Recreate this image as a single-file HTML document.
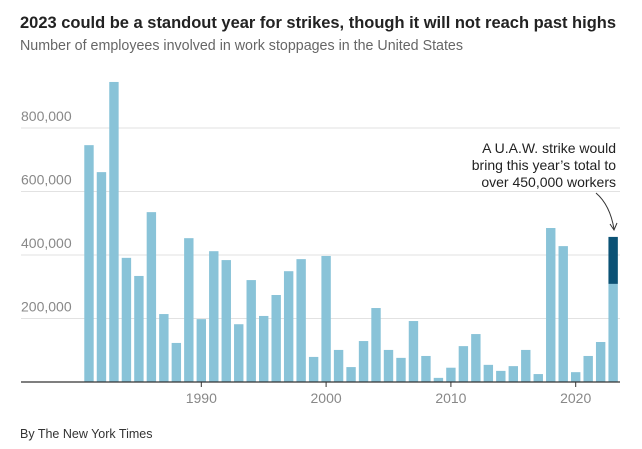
<!DOCTYPE html>
<html><head><meta charset="utf-8"><style>
body{margin:0;background:#fff;font-family:"Liberation Sans",sans-serif;}
svg{display:block}
</style></head><body>
<svg width="642" height="449">
<text x="20" y="28" font-size="17" font-weight="bold" fill="#222" textLength="596" lengthAdjust="spacingAndGlyphs">2023 could be a standout year for strikes, though it will not reach past highs</text>
<text x="20" y="50" font-size="15" fill="#666" textLength="443" lengthAdjust="spacingAndGlyphs">Number of employees involved in work stoppages in the United States</text>
<g id="grid"></g><g id="bars"></g><g id="xaxis"></g>
<text x="616" y="153" font-size="14" fill="#222" text-anchor="end">A U.A.W. strike would</text>
<text x="616" y="170" font-size="14" fill="#222" text-anchor="end">bring this year’s total to</text>
<text x="616" y="187" font-size="14" fill="#222" text-anchor="end">over 450,000 workers</text>
<path d="M596,193 Q610,205 614,229" fill="none" stroke="#333" stroke-width="1"/>
<path d="M610,224 L614,230 L617,223" fill="none" stroke="#333" stroke-width="1"/>
<text x="20" y="438" font-size="12.5" fill="#333">By The New York Times</text>
</svg>
<script>
const years=[1981,1982,1983,1984,1985,1986,1987,1988,1989,1990,1991,1992,1993,1994,1995,1996,1997,1998,1999,2000,2001,2002,2003,2004,2005,2006,2007,2008,2009,2010,2011,2012,2013,2014,2015,2016,2017,2018,2019,2020,2021,2022,2023];
const workers=[746000,661000,945000,391000,334000,535000,214000,123000,453000,198000,412000,384000,182000,321000,208000,274000,349000,387000,79000,397000,101000,47000,129000,233000,101000,76000,192000,82000,13000,45000,113000,151000,54000,35000,50000,101000,25000,485000,428000,31000,82000,126000,309000];
const uawExtra=[148000];
const yTicks=[200000,400000,600000,800000];
const xTicks=[1990,2000,2010,2020];
const NS="http://www.w3.org/2000/svg";
const yS=v=>382-v/200000*63.5;
const xS=yr=>201.3+(yr-1990)*12.48;
function mk(t,a,p){const e=document.createElementNS(NS,t);for(const k in a)e.setAttribute(k,a[k]);p.appendChild(e);return e;}
const G=document.getElementById('grid'),B=document.getElementById('bars'),X=document.getElementById('xaxis');
yTicks.forEach(v=>{
 const l=mk('line',{x1:21,x2:620,y1:yS(v),y2:yS(v),stroke:'#e2e2e2','stroke-width':1},G);
 
 
 const t=mk('text',{x:21,y:yS(v)-7,'font-size':14,fill:'#888'},G);
 t.textContent=v.toLocaleString('en-US');
 
 
});
years.forEach((yr,i)=>{
 const r=mk('rect',{x:xS(yr)-4.7,width:9.4,y:yS(workers[i]),height:382-yS(workers[i]),fill:'#89c3d8'},B);
 
 
});
const lastIdx=years.length-1;
const totalTop=workers[lastIdx]+uawExtra[0];
const u=mk('rect',{x:xS(years[lastIdx])-4.7,width:9.4,y:yS(totalTop),height:yS(workers[lastIdx])-yS(totalTop),fill:'#0b5275'},B);


const ax=mk('line',{x1:21,x2:620,y1:382,y2:382,stroke:'#333','stroke-width':1.3},X);


xTicks.forEach(yr=>{
 const tk=mk('line',{x1:xS(yr),x2:xS(yr),y1:382,y2:387,stroke:'#333'},X);
 
 
 const t=mk('text',{x:xS(yr),y:403,'font-size':14,fill:'#888','text-anchor':'middle'},X);
 t.textContent=yr;
 
 
});
</script>
</body></html>
